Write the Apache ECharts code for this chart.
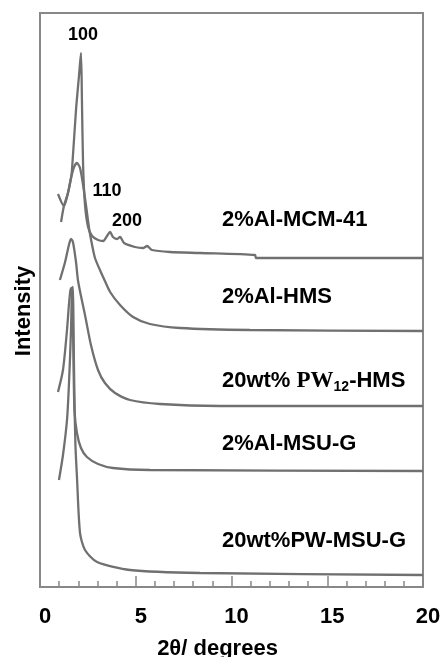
<!DOCTYPE html>
<html>
<head>
<meta charset="utf-8">
<script src="https://cdn.jsdelivr.net/npm/echarts@6/dist/echarts.min.js"></script>
<style>
  html, body { margin: 0; padding: 0; background: #fff; }
  #chart { width: 442px; height: 657px; }
</style>
</head>
<body>
<div id="chart"></div>
<script>
// 2theta (degrees) / intensity (a.u., curves stacked with offsets)
var mcm41 = [[0.94,393],[1.25,381],[1.46,394],[1.62,409],[1.67,417],[1.88,477],[2.04,512],[2.14,534],[2.19,487],[2.25,422],[2.35,382],[2.51,360],[2.72,351],[3.03,347],[3.30,346],[3.50,351],[3.66,355],[3.81,350],[4.02,348],[4.18,350],[4.39,344],[4.96,340],[5.38,339],[5.59,341],[5.85,337],[6.79,335],[8.36,334],[11.23,332],[11.28,329],[20,329]];
var hms = [[1.10,365],[1.25,381],[1.46,394],[1.62,409],[1.78,420],[1.93,424],[2.09,419],[2.25,402],[2.40,382],[2.56,359],[2.72,342],[2.87,329],[3.13,317],[3.39,306],[3.66,295],[4.18,282],[4.86,270],[5.74,263],[7.31,259],[10.97,257],[20,256]];
var pw12hms = [[1.04,307],[1.31,325],[1.51,342],[1.62,348],[1.72,345],[1.88,325],[1.98,307],[2.14,291],[2.35,272],[2.66,242],[3.03,217],[3.39,204],[3.92,194],[4.70,187],[6.27,183],[9.40,181],[20,181]];
var msug = [[0.94,195],[1.20,217],[1.41,257],[1.51,282],[1.59,297],[1.64,299],[1.70,287],[1.75,227],[1.80,177],[1.93,154],[2.14,139],[2.45,130],[3.03,123],[3.81,119],[5.74,117],[20,116]];
var pwmsug = [[0.99,107],[1.20,132],[1.41,167],[1.51,202],[1.62,257],[1.67,297],[1.72,300],[1.75,257],[1.80,187],[1.85,142],[1.93,110],[2.09,54],[2.35,37],[2.98,25],[4.70,17],[8.36,14],[20,12]];

var xTicks = [0, 5, 10, 15, 20];
var sampleNames = ['2%Al-MCM-41', '2%Al-HMS', '20wt% PW12-HMS', '2%Al-MSU-G', '20wt%PW-MSU-G'];
var sampleLabelPos = [[9.5,367],[9.5,290],[9.5,206],[9.5,143],[9.5,46]];
var peakNames = ['100', '110', '200'];
var peakLabelPos = [[2.25,552],[3.50,396],[4.54,366]];

var lineColor = '#707070';
var axisColor = '#888';
var font = 'Liberation Sans';
var chart = echarts.init(document.getElementById('chart'));

function curve(name, data) {
  return {
    name: name,
    type: 'line',
    data: data,
    showSymbol: false,
    smooth: 0.25,
    lineStyle: {color: lineColor, width: 2.3},
    silent: true
  };
}

chart.setOption({
  animation: false,
  grid: {left: 40, top: 13, right: 19, bottom: 70, outerBoundsMode: 'none', containLabel: false,
         show: true, borderColor: axisColor, borderWidth: 2},
  xAxis: {
    type: 'value',
    min: 0,
    max: 20,
    interval: 5,
    name: '2θ/ degrees',
    nameLocation: 'middle',
    nameGap: 51,
    nameTextStyle: {fontFamily: font, fontWeight: 'bold', fontSize: 22, color: '#000', padding: [0, 28, 0, 0]},
    axisLine: {show: true, lineStyle: {color: axisColor, width: 2}},
    axisTick: {show: true, inside: true, length: 11, lineStyle: {color: axisColor, width: 1.5}},
    minorTick: {show: true, splitNumber: 5, length: 6, lineStyle: {color: axisColor, width: 1.5}},
    axisLabel: {
      margin: 19,
      padding: [0, 0, 0, 10],
      fontFamily: font, fontWeight: 'bold', fontSize: 22, color: '#000',
      formatter: function (v) { return xTicks.indexOf(v) >= 0 ? String(v) : ''; }
    },
    splitLine: {show: false}
  },
  yAxis: {
    type: 'value',
    min: 0,
    max: 574,
    name: 'Intensity',
    nameLocation: 'middle',
    nameGap: 5,
    nameTextStyle: {fontFamily: font, fontWeight: 'bold', fontSize: 22, color: '#000', padding: [0, 22, 0, 0]},
    axisLine: {show: true, lineStyle: {color: axisColor, width: 2}},
    axisTick: {show: false},
    axisLabel: {show: false},
    splitLine: {show: false}
  },
  series: [
    curve(sampleNames[0], mcm41),
    curve(sampleNames[1], hms),
    curve(sampleNames[2], pw12hms),
    curve(sampleNames[3], msug),
    curve(sampleNames[4], pwmsug)
  ]
});

// text annotations placed from data coordinates
var texts = [];
sampleNames.forEach(function (n, i) {
  var p = chart.convertToPixel({gridIndex: 0}, sampleLabelPos[i]);
  var style;
  if (n.indexOf('PW12') >= 0) {
    style = {
      text: '{a|20wt% }{b|PW}{c|12}{a|-HMS}',
      rich: {
        a: {fontFamily: font, fontWeight: 'bold', fontSize: 22, fill: '#000', lineHeight: 26},
        b: {fontFamily: 'Liberation Serif', fontWeight: 'bold', fontSize: 23, fill: '#000', lineHeight: 26},
        c: {fontFamily: font, fontWeight: 'bold', fontSize: 14, fill: '#000', lineHeight: 26, padding: [12, 0, 0, 0]}
      }
    };
  } else {
    style = {text: n, fontFamily: font, fontWeight: 'bold', fontSize: 22, fill: '#000'};
  }
  style.verticalAlign = 'middle';
  style.align = 'left';
  texts.push({type: 'text', x: p[0], y: p[1], style: style, silent: true});
});
peakNames.forEach(function (n, i) {
  var p = chart.convertToPixel({gridIndex: 0}, peakLabelPos[i]);
  texts.push({
    type: 'text', x: p[0], y: p[1], silent: true,
    style: {text: n, fontFamily: font, fontWeight: 'bold', fontSize: 18, fill: '#000', align: 'center', verticalAlign: 'middle'}
  });
});
chart.setOption({graphic: texts});
</script>
</body>
</html>
